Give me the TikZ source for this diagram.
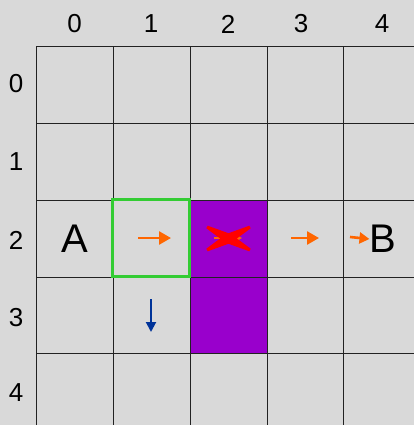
\documentclass[tikz,border=0pt]{standalone}
\usepackage{fontspec}
\setmainfont{Liberation Sans}
\usetikzlibrary{arrows.meta}
\definecolor{bg}{HTML}{D9D9D9}
\definecolor{gridc}{HTML}{222222}
\definecolor{wall}{HTML}{9900CC}
\definecolor{sel}{HTML}{33CC33}
\definecolor{orng}{HTML}{FF6600}
\definecolor{blu}{HTML}{003399}
\tikzset{
  idx/.style={font=\fontsize{26}{26}\selectfont, inner sep=0pt},
  big/.style={font=\fontsize{40}{40}\selectfont, inner sep=0pt},
  gridline/.style={draw=gridc, line width=0.9pt},
  movearrow/.style={draw=orng, line width=2.6pt, -{Triangle[length=12pt,width=13pt]}},
  downarrow/.style={draw=blu, line width=2pt, -{Triangle[length=10pt,width=10pt]}},
  cross/.style={fill=red}
}
\begin{document}
\begin{tikzpicture}[x=1pt,y=-1pt]
\fill[bg] (0,0) rectangle (414,425);
\useasboundingbox (0,0) rectangle (414,425);
% wall cells
\fill[wall] (190,200) rectangle (267,354);
% grid
\foreach \gx in {36,113.3,190,267,343.7}
  \draw[gridline] (\gx,46.5) -- (\gx,425);
\foreach \gy in {46.5,123,200,277,353.7}
  \draw[gridline] (36,\gy) -- (414,\gy);
% selected cell
\draw[sel, line width=3pt] (112.5,199.5) rectangle (189,276.5);
% indices
\node[idx] (c0) at (74.5,24) {0};
\node[idx] (c1) at (151,24) {1};
\node[idx] (c2) at (228,24) {2};
\node[idx] (c3) at (301,24) {3};
\node[idx] (c4) at (382,24) {4};
\node[idx] (r0) at (16,84) {0};
\node[idx] (r1) at (16,162) {1};
\node[idx] (r2) at (16,240) {2};
\node[idx] (r3) at (16,318) {3};
\node[idx] (r4) at (16,393) {4};
% start / goal
\node[big] (A) at (75,239) {A};
\node[big] (B) at (383,239) {B};
% arrows
\coordinate (a1s) at (138,238);
\coordinate (a1e) at (171,238);
\draw[movearrow] (a1s) -- (a1e);
\coordinate (a2s) at (214,238);
\coordinate (a2e) at (242,238);
\draw[movearrow, line width=2pt, -{Triangle[length=9pt,width=10pt]}] (a2s) -- (a2e);
\coordinate (a3s) at (291,238);
\coordinate (a3e) at (319,238);
\draw[movearrow] (a3s) -- (a3e);
\coordinate (a4s) at (350,237);
\draw[movearrow, -{Triangle[length=10pt,width=11pt]}] (a4s) -- (B.west);
\coordinate (d1s) at (151,299);
\coordinate (d1e) at (151,332);
\draw[downarrow] (d1s) -- (d1e);
% cross (two tapered strokes)
\fill[cross] (206.3,228.3) -- (226.1,242.9) -- (249.3,251.3) -- (250.7,248.7)
  -- (230.9,234.1) -- (207.7,225.7) -- cycle;
\fill[cross] (207.7,251.3) -- (230.9,242.9) -- (250.7,228.3) -- (249.3,225.7)
  -- (226.1,234.1) -- (206.3,248.7) -- cycle;
\end{tikzpicture}
\end{document}
